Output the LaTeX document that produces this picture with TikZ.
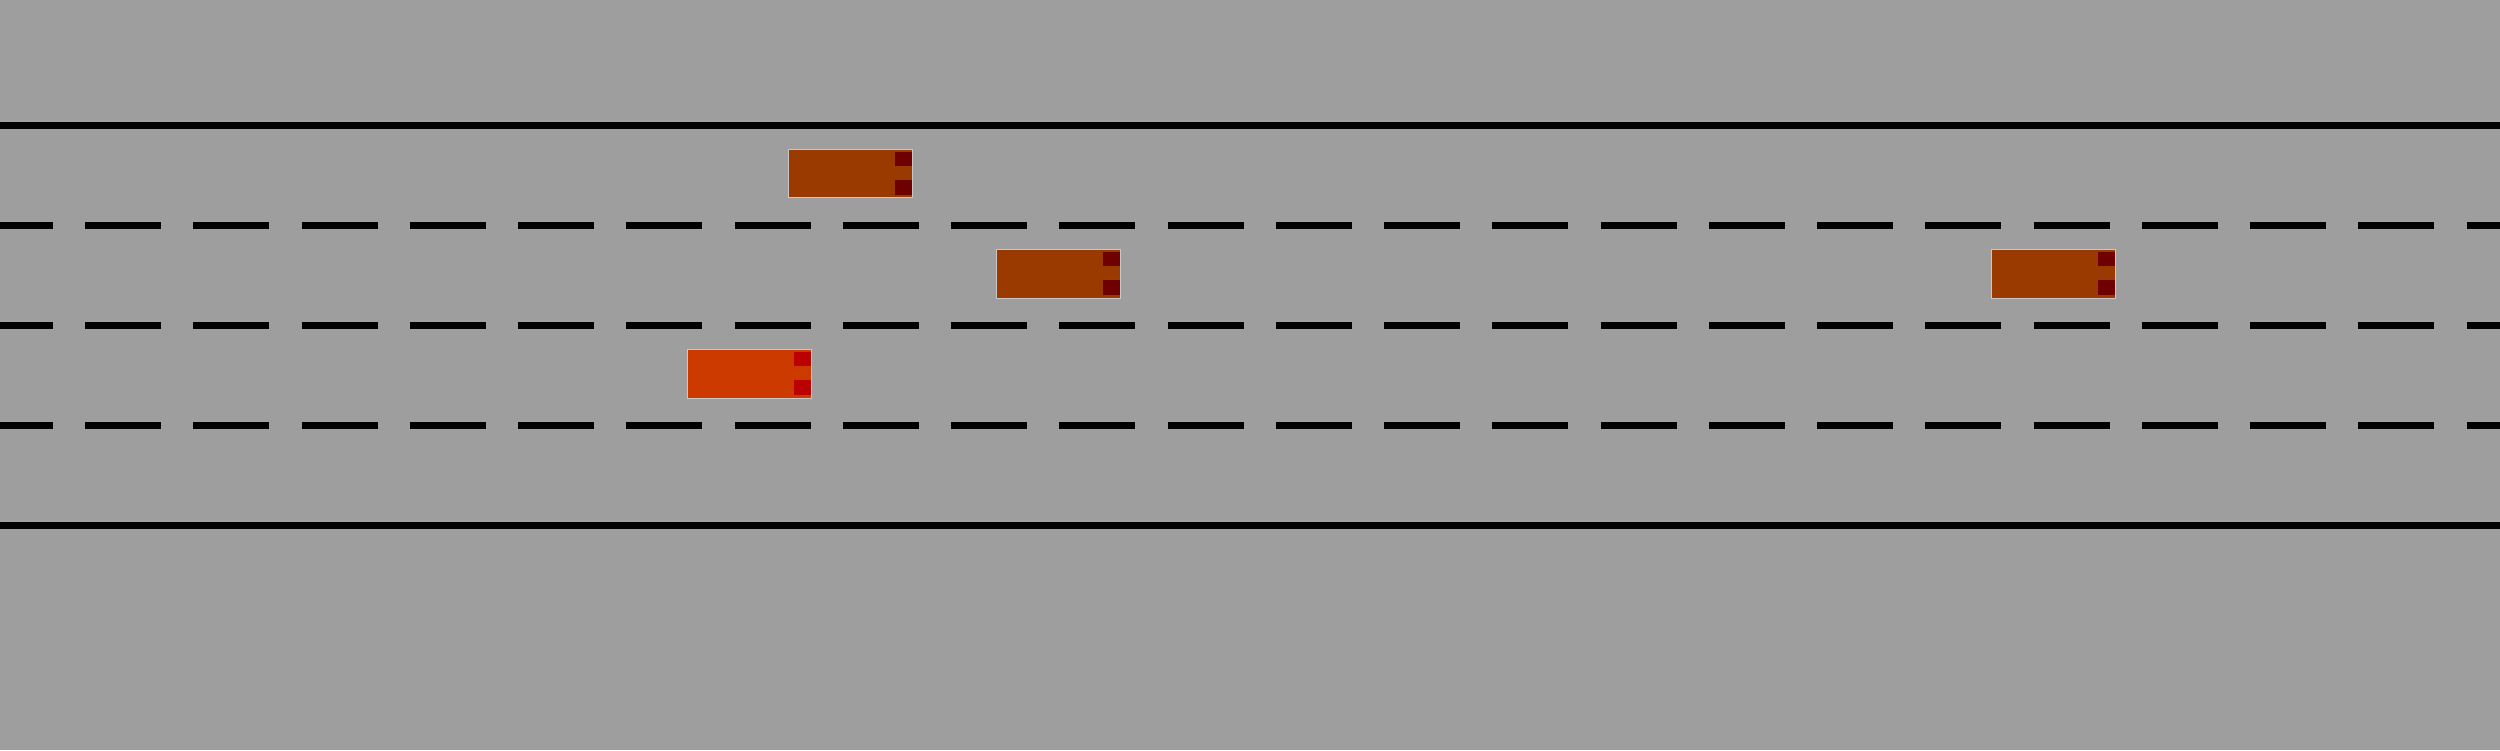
\documentclass[tikz,border=0pt]{standalone}
\definecolor{road}{RGB}{158,158,158}
\definecolor{rim}{RGB}{200,200,200}
\definecolor{carbody}{RGB}{155,58,0}
\definecolor{carlamp}{RGB}{110,0,0}
\definecolor{egobody}{RGB}{204,58,0}
\definecolor{egolamp}{RGB}{187,0,0}
\begin{document}
\begin{tikzpicture}[x=1cm,y=1cm,
  edge line/.style={line width=0.07cm},
  lane mark/.style={line width=0.07cm,dash pattern=on 0.76cm off 0.3224cm,dash phase=0.23cm},
  car/.style={draw=rim,line width=0.01cm,minimum width=1.234cm,minimum height=0.484cm,
    inner sep=0pt,outer sep=0pt}]
  \fill[road] (0,0) rectangle (25,7.5);
  \useasboundingbox (0,0) rectangle (25,7.5);
  % road edges
  \draw[edge line] (0,6.245) -- (25,6.245);
  \draw[edge line] (0,2.245) -- (25,2.245);
  % lane markings
  \foreach \y in {5.245,4.245,3.245}
    \draw[lane mark] (0,\y) -- (25,\y);
  % cars
  \foreach \n/\x/\y/\b/\l in {upper/8.505/5.762/carbody/carlamp,
      mid/10.585/4.762/carbody/carlamp,
      far/20.535/4.762/carbody/carlamp,
      ego/7.495/3.762/egobody/egolamp}{
    \node[car,fill=\b] (\n) at (\x,\y) {};
    \fill[\l] ([shift={(-0.175,-0.02)}]\n.north east) rectangle ([shift={(-0.005,-0.165)}]\n.north east);
    \fill[\l] ([shift={(-0.175,0.03)}]\n.south east) rectangle ([shift={(-0.005,0.18)}]\n.south east);
  }
\end{tikzpicture}
\end{document}
